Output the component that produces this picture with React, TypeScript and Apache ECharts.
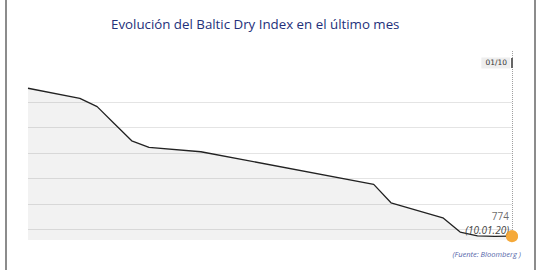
import React, { useEffect, useRef } from "react";
import * as echarts from "echarts";

const dates: [number, number, number][] = [
  [2019, 12, 13], [2019, 12, 16], [2019, 12, 17], [2019, 12, 18], [2019, 12, 19],
  [2019, 12, 20], [2019, 12, 23], [2020, 1, 2], [2020, 1, 3], [2020, 1, 6],
  [2020, 1, 7], [2020, 1, 8], [2020, 1, 9], [2020, 1, 10],
];
const values = [1354, 1314, 1282, 1215, 1148, 1122, 1105, 977, 905, 846, 790, 775, 773, 774];
const gridValues = [800, 900, 1000, 1100, 1200, 1300];
const titleText = "Evolución del Baltic Dry Index en el último mes";
const sourceText = "(Fuente: Bloomberg )";
const pointerLabel = "01/10";
const lastLabel = "(10.01.20)";

const ts = (d: [number, number, number]) => new Date(d[0], d[1] - 1, d[2]).getTime();

export default function App() {
  const ref = useRef<HTMLDivElement>(null);
  useEffect(() => {
    if (!ref.current) return;
    const chart = echarts.init(ref.current, null, { renderer: "svg" });
    const data = dates.map((d, i) => [ts(d), values[i]]);
    const lastTs = ts(dates[dates.length - 1]);
    const lastVal = values[values.length - 1];
    chart.setOption({
      animation: false,
      title: {
        text: titleText,
        left: 106,
        top: 12,
        textStyle: { fontSize: 13.3, fontWeight: "normal", color: "#23307a", fontFamily: "Open Sans" },
      },
      grid: { left: 28, right: 28, top: 51, bottom: 30 },
      xAxis: {
        type: "time",
        min: ts(dates[0]),
        max: lastTs,
        show: false,
      },
      yAxis: {
        type: "value",
        min: 759,
        max: 1500,
        show: false,
        splitLine: { show: false },
      },
      series: [
        {
          type: "line",
          data,
          symbol: "none",
          lineStyle: { color: "#222", width: 1.3 },
          areaStyle: { color: "#000", opacity: 0.05, origin: "start" },
          markLine: {
            silent: true,
            z: 1,
            symbol: ["none", "none"],
            label: { show: false },
            data: [
              ...gridValues.map((v) => ({ yAxis: v, lineStyle: { color: "#e4e4e4", type: "solid", width: 1 } })),
              { xAxis: lastTs, lineStyle: { color: "#a0a0a0", type: "dotted", width: 1 } },
            ],
          },
          markPoint: {
            silent: true,
            data: [
              {
                coord: [lastTs, 1453],
                symbol: "rect",
                symbolSize: [2, 10],
                itemStyle: { color: "#666" },
                label: {
                  show: true,
                  position: "left",
                  distance: 1,
                  formatter: pointerLabel,
                  backgroundColor: "#eeeeee",
                  padding: [2, 3, 1, 4],
                  fontSize: 7.5,
                  color: "#333",
                  fontFamily: "DejaVu Sans",
                },
              },
            ],
          },
          z: 2,
        },
        {
          type: "scatter",
          data: [[lastTs, lastVal]],
          symbol: "circle",
          symbolSize: 12,
          itemStyle: { color: "#f5a93a" },
          z: 5,
          label: {
            show: true,
            position: "left",
            distance: 0,
            offset: [3, -20],
            formatter: String(lastVal),
            fontSize: 10,
            color: "#444",
            fontFamily: "Open Sans",
          },
          markPoint: {
            silent: true,
            symbol: "circle",
            symbolSize: 12,
            itemStyle: { color: "#f5a93a" },
            data: [
              {
                coord: [lastTs, lastVal],
                label: {
                  show: true,
                  position: "left",
                  distance: 0,
                  offset: [3, -6],
                  formatter: lastLabel,
                  fontSize: 10,
                  fontStyle: "italic",
                  color: "#444",
                  fontFamily: "Open Sans",
                },
              },
            ],
          },
        },
      ],
      graphic: [
        { type: "line", shape: { x1: 6, y1: 0, x2: 6, y2: 270 }, style: { stroke: "#666", lineWidth: 1.5 } },
        { type: "line", shape: { x1: 535, y1: 0, x2: 535, y2: 270 }, style: { stroke: "#666", lineWidth: 1.5 } },
        {
          type: "text",
          right: 19,
          top: 250,
          style: { text: sourceText, fontSize: 7.5, fontStyle: "italic", fill: "#5566aa", fontFamily: "Open Sans" },
        },
      ],
    });
    return () => chart.dispose();
  }, []);
  return (
    <div style={{ position: "absolute", left: 0, top: 0, width: 540, height: 270, background: "#fff" }}>
      <div ref={ref} style={{ width: 540, height: 270 }} />
    </div>
  );
}
